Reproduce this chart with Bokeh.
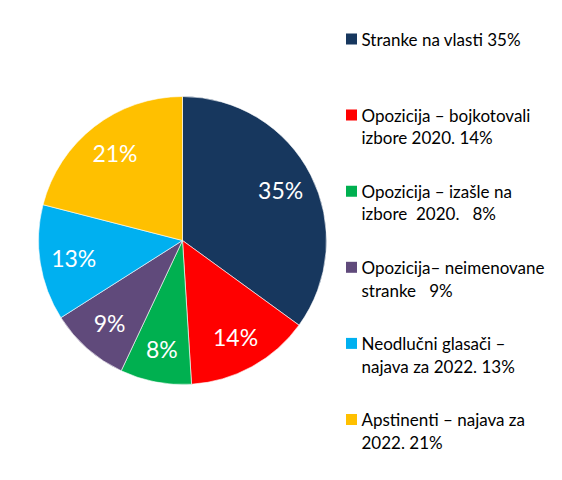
from math import pi, sin, cos
from bokeh.plotting import figure
from bokeh.models import Range1d, ColumnDataSource
from bokeh.core.properties import value
from bokeh.embed import file_html
from bokeh.resources import INLINE

# data
shares = [35, 14, 8, 9, 13, 21]
labels = ['35%', '14%', '8%', '9%', '13%', '21%']
legend_lines = [
    ['Stranke na vlasti 35%'],
    ['Opozicija – bojkotovali', 'izbore 2020. 14%'],
    ['Opozicija – izašle na', 'izbore \u00a02020. \u00a0\u00a08%'],
    ['Opozicija– neimenovane', 'stranke \u00a0\u00a09%'],
    ['Neodlučni glasači –', 'najava za 2022. 13%'],
    ['Apstinenti – najava za', '2022. 21%'],
]
colors = ['#17375E', '#FF0000', '#00B050', '#604A7B', '#00B0F0', '#FFC000']

W, H = 546, 464
cx, cy, R = 182, 224, 144
font = value("Lato")

total = float(sum(shares))
starts, ends, lx, ly = [], [], [], []
cum = 0.0
for s in shares:
    a0 = pi / 2 - 2 * pi * cum / total
    a1 = pi / 2 - 2 * pi * (cum + s) / total
    starts.append(a1)
    ends.append(a0)
    mid = (a0 + a1) / 2
    lx.append(cx + 0.765 * R * cos(mid))
    ly.append(cy + 0.765 * R * sin(mid))
    cum += s

src = ColumnDataSource(dict(start=starts, end=ends, color=colors,
                            lx=lx, ly=ly, lab=labels))

p = figure(width=W, height=H, output_backend="svg", toolbar_location=None,
           x_range=Range1d(0, W), y_range=Range1d(0, H),
           min_border=0, outline_line_color=None)
p.axis.visible = False
p.grid.visible = False
p.background_fill_color = 'white'

p.wedge(x=cx, y=cy, radius=R, start_angle='start', end_angle='end',
        direction='anticlock', fill_color='color', line_color='white',
        line_width=0.6, source=src)
p.text(x='lx', y='ly', text='lab', source=src, text_color='white',
       text_font=font, text_font_size='23px', text_align='center',
       text_baseline='middle')

# legend
mx, tx = 351, 361
ty, tyl = [], []
mys = []
for i, lines in enumerate(legend_lines):
    top = H - 38.5 - i * 76.1
    mys.append(top)
    for j, t in enumerate(lines):
        ty.append(top - j * 22.7)
        tyl.append(t)
p.scatter(x=[mx] * len(mys), y=mys, marker='square', size=11,
          fill_color=colors, line_color=None)
p.text(x=[tx] * len(ty), y=ty, text=tyl, text_color='black',
       text_font=font, text_font_size='17px', text_align='left',
       text_baseline='middle')

open("out.html", "w").write(file_html(p, INLINE))
